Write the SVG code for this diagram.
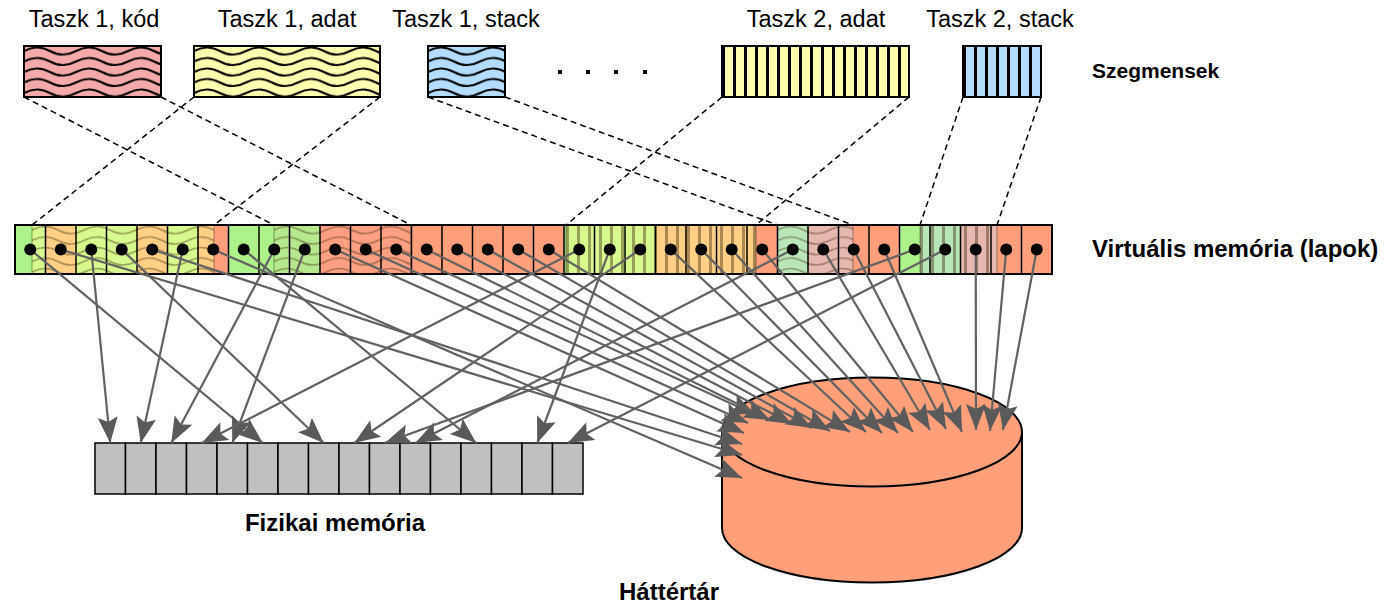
<svg xmlns="http://www.w3.org/2000/svg" width="1384" height="606" viewBox="0 0 1384 606">
  <style>
    .lbl { font-family: "Liberation Sans", Arial, sans-serif; font-size: 23.5px; fill: #000; }
    .bold { font-family: "Liberation Sans", Arial, sans-serif; font-weight: bold; fill: #000; }
    .seg { fill: none; stroke: #000; stroke-width: 2; }
    .dash { stroke: #000; stroke-width: 1.5; stroke-dasharray: 6 4; fill: none; }
    .cell { stroke: #000; stroke-width: 1.5; }
    .frame { fill: #c0c0c0; stroke: #000; stroke-width: 1.5; }
    .arrow { stroke: #626262; stroke-width: 2.2; fill: none; marker-start: url(#dot); marker-end: url(#head); }
    .ovl { stroke: rgba(0,0,0,0.3); stroke-width: 1.2; }
  </style>
  <defs>
    <!-- wavy hatching used by task 1 segments -->
    <pattern id="wave" patternUnits="userSpaceOnUse" width="52" height="10.5">
      <path d="M-52,5 c8.7,-4.8 17.3,-4.8 26,0 c8.7,4.8 17.3,4.8 26,0 c8.7,-4.8 17.3,-4.8 26,0 c8.7,4.8 17.3,4.8 26,0 c8.7,-4.8 17.3,-4.8 26,0 c8.7,4.8 17.3,4.8 26,0" fill="none" stroke="#000" stroke-width="2"/>
    </pattern>
    <pattern id="waveDim" patternUnits="userSpaceOnUse" width="52" height="10.5">
      <path d="M-52,5 c8.7,-4.8 17.3,-4.8 26,0 c8.7,4.8 17.3,4.8 26,0 c8.7,-4.8 17.3,-4.8 26,0 c8.7,4.8 17.3,4.8 26,0 c8.7,-4.8 17.3,-4.8 26,0 c8.7,4.8 17.3,4.8 26,0" fill="none" stroke="rgba(70,50,20,0.45)" stroke-width="1.6"/>
    </pattern>
    <!-- vertical bar hatching used by task 2 segments -->
    <pattern id="stripe" patternUnits="userSpaceOnUse" width="11" height="10">
      <rect x="0" y="0" width="3" height="10" fill="#000"/>
    </pattern>
    <pattern id="stripeDim" patternUnits="userSpaceOnUse" width="11" height="10">
      <rect x="0" y="0" width="3" height="10" fill="rgba(70,50,20,0.45)"/>
    </pattern>
    <marker id="head" markerUnits="userSpaceOnUse" markerWidth="28" markerHeight="22" refX="26" refY="10" orient="auto">
      <path d="M0,0 L26,10 L0,20 L5,10 z" fill="#5a5a5a"/>
    </marker>
    <marker id="dot" markerUnits="userSpaceOnUse" markerWidth="14" markerHeight="14" refX="7" refY="7">
      <circle cx="7" cy="7" r="6" fill="#000"/>
    </marker>
  </defs>

  <rect width="1384" height="606" fill="#fff"/>

  <!-- segment labels -->
  <g id="labels-top">
    <text class="lbl" x="94" y="27" text-anchor="middle">Taszk 1, kód</text>
    <text class="lbl" x="287" y="27" text-anchor="middle">Taszk 1, adat</text>
    <text class="lbl" x="466" y="27" text-anchor="middle">Taszk 1, stack</text>
    <text class="lbl" x="816" y="27" text-anchor="middle">Taszk 2, adat</text>
    <text class="lbl" x="1000" y="27" text-anchor="middle">Taszk 2, stack</text>
  </g>

  <!-- segments -->
  <g id="seg-t1-kod" transform="translate(24,46)">
    <rect width="137" height="51" fill="#f5aaaa"/>
    <rect width="137" height="51" fill="url(#wave)"/>
    <rect class="seg" width="137" height="51"/>
  </g>
  <g id="seg-t1-adat" transform="translate(194,46)">
    <rect width="186" height="51" fill="#ffffb0"/>
    <rect width="186" height="51" fill="url(#wave)"/>
    <rect class="seg" width="186" height="51"/>
  </g>
  <g id="seg-t1-stack" transform="translate(428,46)">
    <rect width="77" height="51" fill="#b4dcff"/>
    <rect width="77" height="51" fill="url(#wave)"/>
    <rect class="seg" width="77" height="51"/>
  </g>
  <g id="ellipsis">
    <rect x="558" y="70" width="4" height="4"/>
    <rect x="586" y="70" width="4" height="4"/>
    <rect x="614" y="70" width="4" height="4"/>
    <rect x="643" y="70" width="4" height="4"/>
  </g>
  <g id="seg-t2-adat" transform="translate(722,46)">
    <rect width="187" height="51" fill="#ffffb0"/>
    <rect width="187" height="51" fill="url(#stripe)"/>
    <rect class="seg" width="187" height="51"/>
  </g>
  <g id="seg-t2-stack" transform="translate(963,46)">
    <rect width="78" height="51" fill="#b4dcff"/>
    <rect width="78" height="51" fill="url(#stripe)"/>
    <rect class="seg" width="78" height="51"/>
  </g>
  <text class="bold" x="1092" y="78" font-size="21">Szegmensek</text>

  <!-- segment to virtual address range -->
  <g id="segment-links">
    <line class="dash" x1="24" y1="97" x2="274" y2="225"/>
    <line class="dash" x1="161" y1="97" x2="411" y2="225"/>
    <line class="dash" x1="194" y1="97" x2="32" y2="225"/>
    <line class="dash" x1="380" y1="97" x2="214" y2="225"/>
    <line class="dash" x1="428" y1="97" x2="777.5" y2="225"/>
    <line class="dash" x1="505" y1="97" x2="853" y2="225"/>
    <line class="dash" x1="722" y1="97" x2="566" y2="225"/>
    <line class="dash" x1="909" y1="97" x2="756" y2="225"/>
    <line class="dash" x1="963" y1="97" x2="920" y2="225"/>
    <line class="dash" x1="1041" y1="97" x2="997" y2="225"/>
  </g>

  <!-- virtual memory: 34 pages, green = resident, salmon = swapped out -->
  <g id="virtual-memory">
    <rect x="15" y="225" width="1037" height="49" fill="#ff9f7c"/>
    <g fill="#aef28a">
      <rect x="15" y="225" width="30.5" height="49"/>
      <rect x="76" y="225" width="61" height="49"/>
      <rect x="167.5" y="225" width="30.5" height="49"/>
      <rect x="228.5" y="225" width="91.5" height="49"/>
      <rect x="564" y="225" width="91.5" height="49"/>
      <rect x="777.5" y="225" width="30.5" height="49"/>
      <rect x="899.5" y="225" width="61" height="49"/>
    </g>
    <g transform="translate(32,225)">
      <rect class="ovl" width="182" height="49" fill="#ffff90" style="fill-opacity:0.5"/>
      <rect width="182" height="49" fill="url(#waveDim)"/>
    </g>
    <g transform="translate(274,225)">
      <rect class="ovl" width="137" height="49" fill="#f5b0b0" style="fill-opacity:0.12"/>
      <rect width="137" height="49" fill="url(#waveDim)"/>
    </g>
    <g transform="translate(777.5,225)">
      <rect class="ovl" width="75.5" height="49" fill="#c8d8f0" style="fill-opacity:0.45"/>
      <rect width="75.5" height="49" fill="url(#waveDim)"/>
    </g>
    <g transform="translate(566,225)">
      <rect class="ovl" width="190" height="49" fill="#ffff90" style="fill-opacity:0.5"/>
      <rect width="190" height="49" fill="url(#stripeDim)"/>
    </g>
    <g transform="translate(920,225)">
      <rect class="ovl" width="77" height="49" fill="#c8d8f0" style="fill-opacity:0.45"/>
      <rect width="77" height="49" fill="url(#stripeDim)"/>
    </g>
    <g class="cell">
      <path d="M45.5,225v49 M76,225v49 M106.5,225v49 M137,225v49 M167.5,225v49 M198,225v49 M228.5,225v49 M259,225v49 M289.5,225v49 M320,225v49 M350.5,225v49 M381,225v49 M411.5,225v49 M442,225v49 M472.5,225v49 M503,225v49 M533.5,225v49 M564,225v49 M594.5,225v49 M625,225v49 M655.5,225v49 M686,225v49 M716.5,225v49 M747,225v49 M777.5,225v49 M808,225v49 M838.5,225v49 M869,225v49 M899.5,225v49 M930,225v49 M960.5,225v49 M991,225v49 M1021.5,225v49"/>
    </g>
    <rect x="15" y="225" width="1037" height="49" fill="none" stroke="#000" stroke-width="2"/>
  </g>
  <text class="bold" x="1092" y="257" font-size="24">Virtuális memória (lapok)</text>

  <!-- physical memory frames -->
  <g id="physical-memory">
    <rect class="frame" x="95" y="443" width="30.5" height="51"/>
    <rect class="frame" x="125.5" y="443" width="30.5" height="51"/>
    <rect class="frame" x="156" y="443" width="30.5" height="51"/>
    <rect class="frame" x="186.5" y="443" width="30.5" height="51"/>
    <rect class="frame" x="217" y="443" width="30.5" height="51"/>
    <rect class="frame" x="247.5" y="443" width="30.5" height="51"/>
    <rect class="frame" x="278" y="443" width="30.5" height="51"/>
    <rect class="frame" x="308.5" y="443" width="30.5" height="51"/>
    <rect class="frame" x="339" y="443" width="30.5" height="51"/>
    <rect class="frame" x="369.5" y="443" width="30.5" height="51"/>
    <rect class="frame" x="400" y="443" width="30.5" height="51"/>
    <rect class="frame" x="430.5" y="443" width="30.5" height="51"/>
    <rect class="frame" x="461" y="443" width="30.5" height="51"/>
    <rect class="frame" x="491.5" y="443" width="30.5" height="51"/>
    <rect class="frame" x="522" y="443" width="30.5" height="51"/>
    <rect class="frame" x="552.5" y="443" width="30.5" height="51"/>
  </g>
  <text class="bold" x="335" y="531" font-size="24" text-anchor="middle">Fizikai memória</text>

  <!-- backing store cylinder -->
  <g id="backing-store">
    <path d="M722,432 L722,528 A150,54.5 0 0 0 1022,528 L1022,432 Z" fill="#ffa07a" stroke="#000" stroke-width="2"/>
    <ellipse cx="872" cy="432" rx="150" ry="54.5" fill="#ffa07a" stroke="#000" stroke-width="2"/>
  </g>
  <text class="bold" x="669" y="600" font-size="24" text-anchor="middle">Háttértár</text>

  <!-- page table mappings -->
  <g id="connectors">
    <!-- resident pages to frames -->
    <line class="arrow" x1="30.25" y1="249.5" x2="262.75" y2="443"/>
    <line class="arrow" x1="91.25" y1="249.5" x2="110.25" y2="443"/>
    <line class="arrow" x1="121.75" y1="249.5" x2="323.75" y2="443"/>
    <line class="arrow" x1="182.75" y1="249.5" x2="140.75" y2="443"/>
    <line class="arrow" x1="243.75" y1="249.5" x2="476.25" y2="443"/>
    <line class="arrow" x1="274.25" y1="249.5" x2="171.25" y2="443"/>
    <line class="arrow" x1="304.75" y1="249.5" x2="232.25" y2="443"/>
    <line class="arrow" x1="579.25" y1="249.5" x2="201.75" y2="443"/>
    <line class="arrow" x1="609.75" y1="249.5" x2="537.25" y2="443"/>
    <line class="arrow" x1="640.25" y1="249.5" x2="354.25" y2="443"/>
    <line class="arrow" x1="792.75" y1="249.5" x2="415.25" y2="443"/>
    <line class="arrow" x1="914.75" y1="249.5" x2="384.75" y2="443"/>
    <line class="arrow" x1="945.25" y1="249.5" x2="567.75" y2="443"/>
    <!-- swapped-out pages to backing store -->
    <line class="arrow" x1="60.75" y1="249.5" x2="742" y2="455"/>
    <line class="arrow" x1="152.25" y1="249.5" x2="742" y2="444"/>
    <line class="arrow" x1="213.25" y1="249.5" x2="742" y2="478"/>
    <line class="arrow" x1="335.25" y1="249.5" x2="744" y2="433"/>
    <line class="arrow" x1="365.75" y1="249.5" x2="748" y2="423"/>
    <line class="arrow" x1="396.25" y1="249.5" x2="756" y2="415"/>
    <line class="arrow" x1="426.75" y1="249.5" x2="770" y2="420"/>
    <line class="arrow" x1="457.25" y1="249.5" x2="792" y2="424"/>
    <line class="arrow" x1="487.75" y1="249.5" x2="812" y2="428"/>
    <line class="arrow" x1="518.25" y1="249.5" x2="830" y2="431"/>
    <line class="arrow" x1="548.75" y1="249.5" x2="850" y2="432"/>
    <line class="arrow" x1="670.75" y1="249.5" x2="866" y2="432"/>
    <line class="arrow" x1="701.25" y1="249.5" x2="882" y2="433"/>
    <line class="arrow" x1="731.75" y1="249.5" x2="898" y2="433"/>
    <line class="arrow" x1="762.25" y1="249.5" x2="913" y2="432"/>
    <line class="arrow" x1="823.25" y1="249.5" x2="930" y2="430"/>
    <line class="arrow" x1="853.75" y1="249.5" x2="946" y2="429"/>
    <line class="arrow" x1="884.25" y1="249.5" x2="962" y2="432"/>
    <line class="arrow" x1="975.75" y1="249.5" x2="976" y2="430"/>
    <line class="arrow" x1="1006.25" y1="249.5" x2="990" y2="431"/>
    <line class="arrow" x1="1036.75" y1="249.5" x2="1003" y2="430"/>
  </g>
</svg>
